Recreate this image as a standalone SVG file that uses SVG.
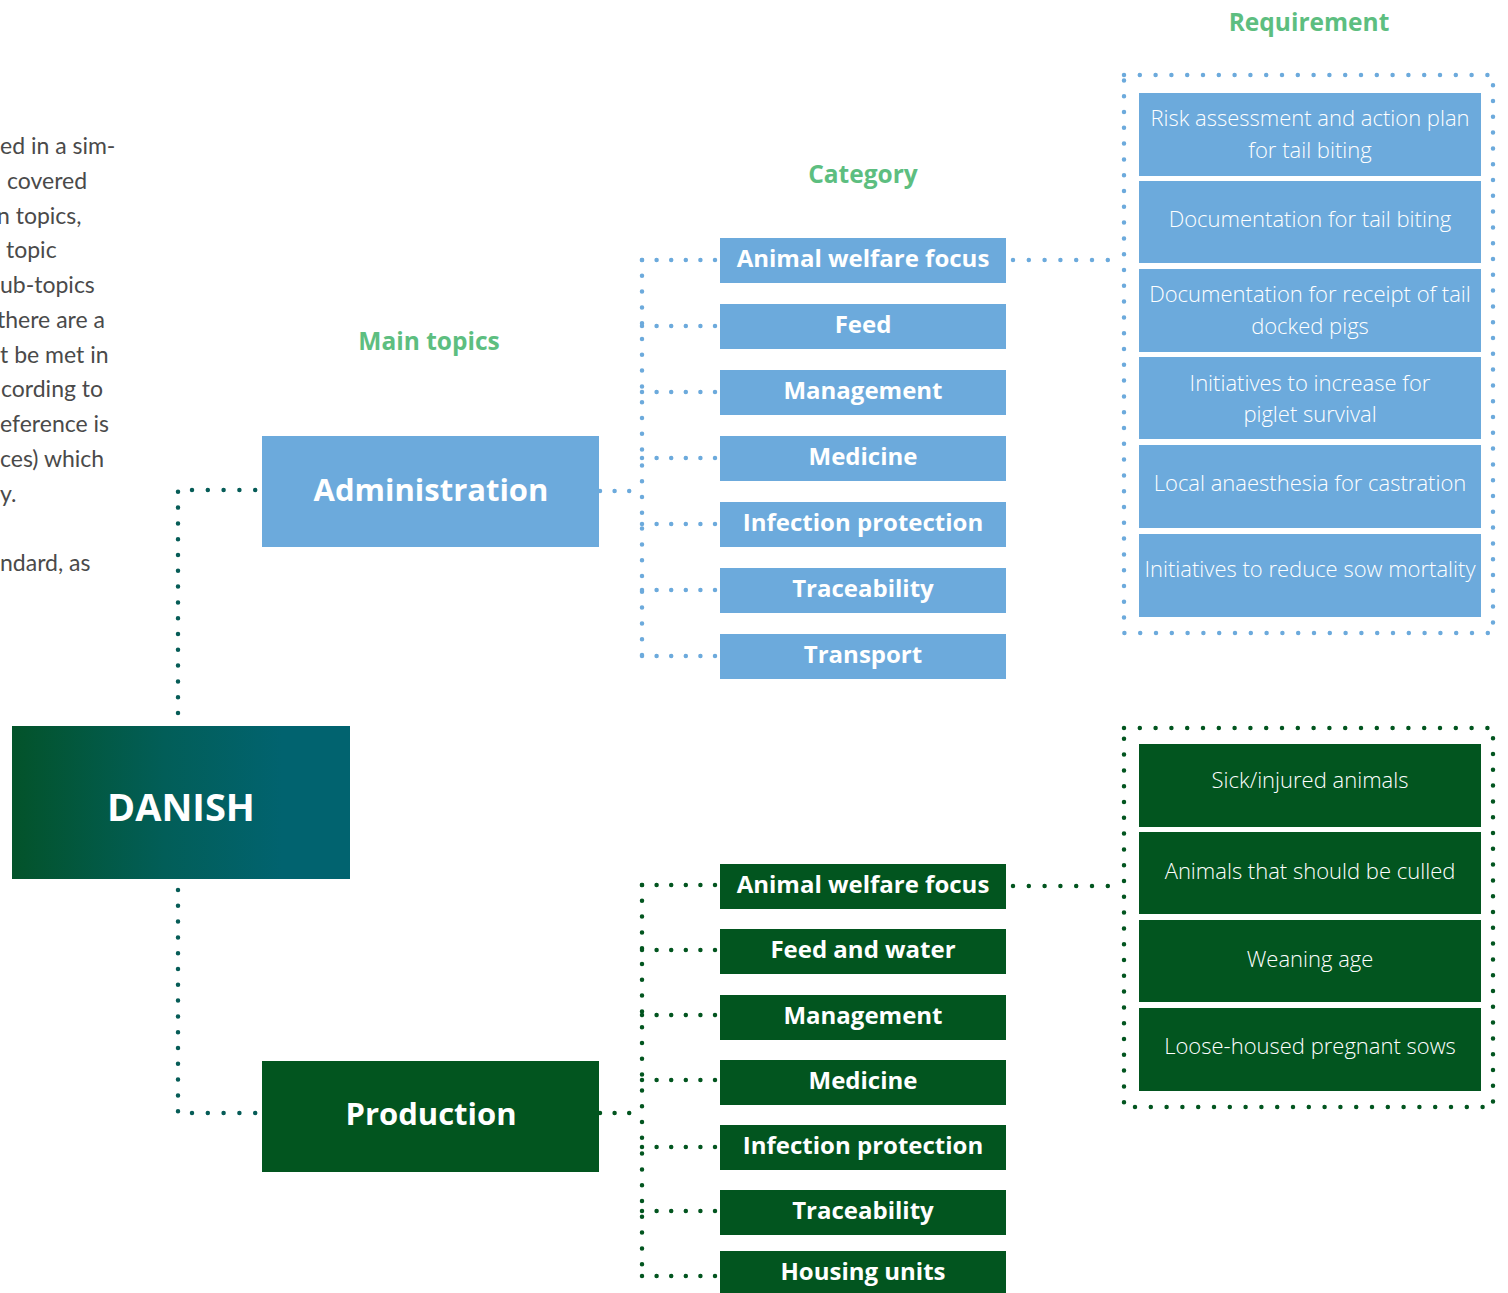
<svg xmlns="http://www.w3.org/2000/svg" width="1508" height="1293" viewBox="0 0 1508 1293">
<defs>
<linearGradient id="danishGrad" x1="0" y1="0" x2="1" y2="0">
<stop offset="0" stop-color="#03532A"/>
<stop offset="0.45" stop-color="#025E58"/>
<stop offset="0.8" stop-color="#01636F"/>
<stop offset="1" stop-color="#01636F"/>
</linearGradient>
<style>
.bg{fill:#FFFFFF}
.blue{fill:#6CAADC}
.green{fill:#02551F}
.dot{fill:none;stroke-width:4.5;stroke-linecap:round;stroke-dasharray:0 15.8}
.dh{fill:none;stroke-width:4.5;stroke-linecap:round;stroke-dasharray:0 14.6}
.db{stroke:#6CAADC}
.dg{stroke:#02551F}
.dt{stroke:#065C57}
.title{font-family:"Open Sans",Lato,sans-serif;font-weight:700;font-size:24.5px;fill:#5DBE80;text-anchor:middle}
.cat{font-family:"Open Sans",Lato,sans-serif;font-weight:700;font-size:24px;fill:#FFFFFF;text-anchor:middle}
.main{font-family:"Open Sans",Lato,sans-serif;font-weight:700;font-size:31px;fill:#FFFFFF;text-anchor:middle}
.req{font-family:"Open Sans",Lato,sans-serif;font-weight:300;font-size:22px;fill:#FFFFFF;text-anchor:middle}
.body{font-family:Lato,"Open Sans",sans-serif;font-weight:400;font-size:23px;fill:#4A4A4A}
</style>
</defs>
<rect class="bg" x="0" y="0" width="1508" height="1293"/>

<g id="intro-text">
<text class="body" x="0" y="154">ed in a sim-</text>
<text class="body" x="7" y="189">covered</text>
<text class="body" x="-3" y="224">n topics,</text>
<text class="body" x="6" y="258">topic</text>
<text class="body" x="0" y="293">ub-topics</text>
<text class="body" x="-3" y="328">there are a</text>
<text class="body" x="0" y="363">t be met in</text>
<text class="body" x="1" y="397">cording to</text>
<text class="body" x="0" y="432">eference is</text>
<text class="body" x="0" y="467">ces) which</text>
<text class="body" x="0" y="502">y.</text>
<text class="body" x="0" y="571">ndard, as</text>
</g>

<g id="titles">
<text class="title" x="1309" y="31">Requirement</text>
<text class="title" x="863" y="183">Category</text>
<text class="title" x="429" y="350">Main topics</text>
</g>

<g id="connectors">
<path class="dot dt" d="M178 713 L178 490 L262 490"/>
<path class="dot dt" d="M178 890 L178 1113 L262 1113"/>
<path class="dh db" d="M600 491 L642 491"/>
<path class="dot db" d="M642 260 L642 656"/>
<path class="dh db" d="M642 260 L716 260"/>
<path class="dh db" d="M642 326 L716 326"/>
<path class="dh db" d="M642 392 L716 392"/>
<path class="dh db" d="M642 458 L716 458"/>
<path class="dh db" d="M642 524 L716 524"/>
<path class="dh db" d="M642 590 L716 590"/>
<path class="dh db" d="M642 656 L716 656"/>
<path class="dot db" d="M1013 260 L1110 260"/>
<path class="dh dg" d="M600 1113 L642 1113"/>
<path class="dot dg" d="M642 885 L642 1276"/>
<path class="dh dg" d="M642 885 L716 885"/>
<path class="dh dg" d="M642 950 L716 950"/>
<path class="dh dg" d="M642 1015 L716 1015"/>
<path class="dh dg" d="M642 1080 L716 1080"/>
<path class="dh dg" d="M642 1147 L716 1147"/>
<path class="dh dg" d="M642 1211 L716 1211"/>
<path class="dh dg" d="M642 1276 L716 1276"/>
<path class="dot dg" d="M1013 886 L1110 886"/>
</g>

<g id="danish">
<rect x="12" y="726" width="338" height="153" fill="url(#danishGrad)"/>
<text class="main" x="181" y="821" style="font-size:38px">DANISH</text>
</g>

<g id="administration">
<rect class="blue" x="262" y="436" width="337" height="111"/>
<text class="main" x="431" y="501">Administration</text>
</g>

<g id="production">
<rect class="green" x="262" y="1061" width="337" height="111"/>
<text class="main" x="431" y="1125">Production</text>
</g>

<g id="admin-categories">
<g id="a-cat-1"><rect class="blue" x="720" y="238" width="286" height="45"/><text class="cat" x="863" y="267">Animal welfare focus</text></g>
<g id="a-cat-2"><rect class="blue" x="720" y="304" width="286" height="45"/><text class="cat" x="863" y="333">Feed</text></g>
<g id="a-cat-3"><rect class="blue" x="720" y="370" width="286" height="45"/><text class="cat" x="863" y="399">Management</text></g>
<g id="a-cat-4"><rect class="blue" x="720" y="436" width="286" height="45"/><text class="cat" x="863" y="465">Medicine</text></g>
<g id="a-cat-5"><rect class="blue" x="720" y="502" width="286" height="45"/><text class="cat" x="863" y="531">Infection protection</text></g>
<g id="a-cat-6"><rect class="blue" x="720" y="568" width="286" height="45"/><text class="cat" x="863" y="597">Traceability</text></g>
<g id="a-cat-7"><rect class="blue" x="720" y="634" width="286" height="45"/><text class="cat" x="863" y="663">Transport</text></g>
</g>

<g id="prod-categories">
<g id="p-cat-1"><rect class="green" x="720" y="864" width="286" height="45"/><text class="cat" x="863" y="893">Animal welfare focus</text></g>
<g id="p-cat-2"><rect class="green" x="720" y="929" width="286" height="45"/><text class="cat" x="863" y="958">Feed and water</text></g>
<g id="p-cat-3"><rect class="green" x="720" y="995" width="286" height="45"/><text class="cat" x="863" y="1024">Management</text></g>
<g id="p-cat-4"><rect class="green" x="720" y="1060" width="286" height="45"/><text class="cat" x="863" y="1089">Medicine</text></g>
<g id="p-cat-5"><rect class="green" x="720" y="1125" width="286" height="45"/><text class="cat" x="863" y="1154">Infection protection</text></g>
<g id="p-cat-6"><rect class="green" x="720" y="1190" width="286" height="45"/><text class="cat" x="863" y="1219">Traceability</text></g>
<g id="p-cat-7"><rect class="green" x="720" y="1251" width="286" height="42"/><text class="cat" x="863" y="1280">Housing units</text></g>
</g>

<g id="admin-requirements">
<rect class="dot db" x="1124" y="75" width="369" height="558"/>
<g id="a-req-1"><rect class="blue" x="1139" y="93" width="342" height="83"/><text class="req" x="1310" y="126">Risk assessment and action plan</text><text class="req" x="1310" y="158">for tail biting</text></g>
<g id="a-req-2"><rect class="blue" x="1139" y="181" width="342" height="82"/><text class="req" x="1310" y="227">Documentation for tail biting</text></g>
<g id="a-req-3"><rect class="blue" x="1139" y="269" width="342" height="83"/><text class="req" x="1310" y="302">Documentation for receipt of tail</text><text class="req" x="1310" y="334">docked pigs</text></g>
<g id="a-req-4"><rect class="blue" x="1139" y="357" width="342" height="82"/><text class="req" x="1310" y="391">Initiatives to increase for</text><text class="req" x="1310" y="422">piglet survival</text></g>
<g id="a-req-5"><rect class="blue" x="1139" y="445" width="342" height="83"/><text class="req" x="1310" y="491">Local anaesthesia for castration</text></g>
<g id="a-req-6"><rect class="blue" x="1139" y="534" width="342" height="83"/><text class="req" x="1310" y="577">Initiatives to reduce sow mortality</text></g>
</g>

<g id="prod-requirements">
<rect class="dot dg" x="1124" y="728" width="369" height="379"/>
<g id="p-req-1"><rect class="green" x="1139" y="744" width="342" height="83"/><text class="req" x="1310" y="788">Sick/injured animals</text></g>
<g id="p-req-2"><rect class="green" x="1139" y="832" width="342" height="82"/><text class="req" x="1310" y="879">Animals that should be culled</text></g>
<g id="p-req-3"><rect class="green" x="1139" y="920" width="342" height="82"/><text class="req" x="1310" y="967">Weaning age</text></g>
<g id="p-req-4"><rect class="green" x="1139" y="1008" width="342" height="83"/><text class="req" x="1310" y="1054">Loose-housed pregnant sows</text></g>
</g>
</svg>
